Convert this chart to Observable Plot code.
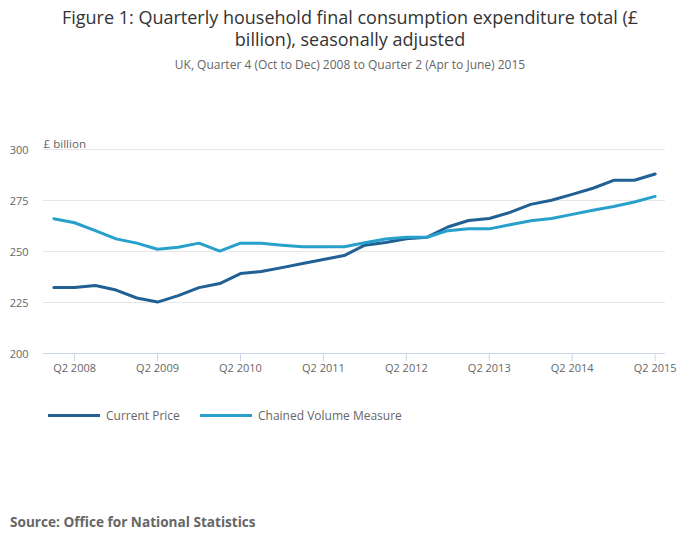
<!DOCTYPE html>
<html>
<head>
<meta charset="utf-8">
<script src="https://cdn.jsdelivr.net/npm/d3@7"></script>
<script src="https://cdn.jsdelivr.net/npm/@observablehq/plot@0.6"></script>
<style>
  html, body { margin: 0; padding: 0; background: #fff; }
  body { width: 700px; height: 549px; position: relative; font-family: "Open Sans", sans-serif; overflow: hidden; }
  #title { position: absolute; top: 6px; left: 0; width: 700px; text-align: center; font-size: 18px; line-height: 22px; color: #333; }
  #subtitle { position: absolute; top: 56px; left: 0; width: 700px; text-align: center; font-size: 12px; color: #666; }
  #chart { position: absolute; top: 80px; left: 0; }
  #legend { position: absolute; top: 407px; left: 0; width: 700px; height: 20px; font-size: 12px; color: #666; }
  .li { position: absolute; top: 0; line-height: 18px; white-space: nowrap; }
  .sw { position: absolute; top: 7px; width: 52px; height: 3px; }
  #source { position: absolute; top: 512px; left: 10px; font-size: 13.6px; font-weight: bold; color: #666; }
</style>
</head>
<body>
<div id="title">Figure 1: Quarterly household final consumption expenditure total (£<br>billion), seasonally adjusted</div>
<div id="subtitle">UK, Quarter 4 (Oct to Dec) 2008 to Quarter 2 (Apr to June) 2015</div>
<div id="chart"></div>
<div id="legend"></div>
<div id="source">Source: Office for National Statistics</div>
<script>
const quarters = [
  "Q1 2008","Q2 2008","Q3 2008","Q4 2008",
  "Q1 2009","Q2 2009","Q3 2009","Q4 2009",
  "Q1 2010","Q2 2010","Q3 2010","Q4 2010",
  "Q1 2011","Q2 2011","Q3 2011","Q4 2011",
  "Q1 2012","Q2 2012","Q3 2012","Q4 2012",
  "Q1 2013","Q2 2013","Q3 2013","Q4 2013",
  "Q1 2014","Q2 2014","Q3 2014","Q4 2014",
  "Q1 2015","Q2 2015"
];
const currentPrice = [
  232.3, 232.3, 233.3, 231.1,
  227.2, 225.2, 228.4, 232.3,
  234.3, 239.2, 240.2, 242.1,
  244.1, 246.1, 248.0, 253.1,
  254.4, 256.2, 257.0, 262.0,
  265.2, 266.2, 269.2, 273.1,
  275.1, 278.0, 281.0, 284.9,
  284.9, 288.0
];
const chainedVolume = [
  266.1, 264.1, 260.2, 256.2,
  254.1, 251.1, 252.1, 254.1,
  250.2, 254.1, 254.1, 253.1,
  252.3, 252.3, 252.3, 254.3,
  256.1, 257.0, 257.0, 260.2,
  261.1, 261.1, 263.1, 265.1,
  266.2, 268.2, 270.2, 272.1,
  274.3, 277.0
];
const seriesNames = ["Current Price", "Chained Volume Measure"];
const seriesColors = ["#206095", "#27a0cc"];
const xTickLabels = ["Q2 2008","Q2 2009","Q2 2010","Q2 2011","Q2 2012","Q2 2013","Q2 2014","Q2 2015"];
const yTicks = [200, 225, 250, 275, 300];
const yUnit = "£ billion";

const rows = [];
quarters.forEach((q, i) => {
  rows.push({i, q, series: seriesNames[0], value: currentPrice[i]});
  rows.push({i, q, series: seriesNames[1], value: chainedVolume[i]});
});
const xTickIdx = xTickLabels.map(l => quarters.indexOf(l));

const plot = Plot.plot({
  width: 700,
  height: 310,
  marginTop: 69,
  marginBottom: 37,
  marginLeft: 43,
  marginRight: 35,
  style: {fontFamily: "'Open Sans', sans-serif", fontSize: "11px", color: "#666", background: "transparent"},
  x: {type: "linear", domain: [-0.5, quarters.length - 0.5]},
  y: {domain: [200, 300]},
  color: {domain: seriesNames, range: seriesColors},
  marks: [
    Plot.gridY(yTicks, {stroke: "#e6e6e6", strokeOpacity: 1, strokeWidth: 1}),
    Plot.axisY(yTicks, {tickSize: 0, tickPadding: 15, label: null, fill: "#666", fontSize: 11, dy: 1}),
    Plot.ruleY([200], {stroke: "#ccd6eb", strokeWidth: 1}),
    Plot.axisX(xTickIdx, {tickSize: 8, stroke: "#ccd6eb", strokeOpacity: 1, tickPadding: 3, label: null,
      tickFormat: d => quarters[d], fill: "#666", fontSize: 11}),
    Plot.text([yUnit], {frameAnchor: "top-left", lineAnchor: "bottom", dy: -2, textAnchor: "start", fill: "#666", fontSize: 11.6}),
    Plot.line(rows, {x: "i", y: "value", z: "series", stroke: "series", strokeWidth: 3,
      strokeLinejoin: "round", strokeLinecap: "round"})
  ]
});
document.getElementById("chart").appendChild(plot);

const legend = document.getElementById("legend");
const legPos = [[48, 106], [200, 258]];
seriesNames.forEach((name, k) => {
  const sw = document.createElement("div");
  sw.className = "sw";
  sw.style.left = legPos[k][0] + "px";
  sw.style.background = seriesColors[k];
  legend.appendChild(sw);
  const t = document.createElement("div");
  t.className = "li";
  t.style.left = legPos[k][1] + "px";
  t.textContent = name;
  legend.appendChild(t);
});
</script>
</body>
</html>
